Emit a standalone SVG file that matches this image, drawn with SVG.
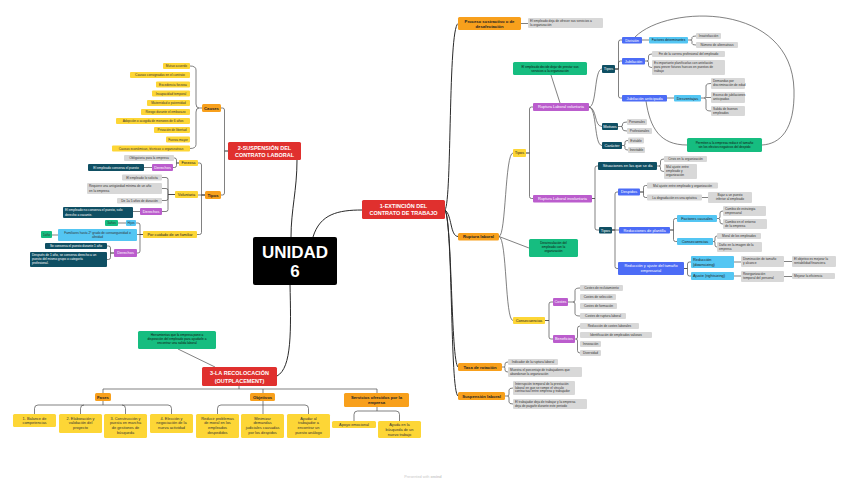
<svg xmlns="http://www.w3.org/2000/svg" width="848" height="483" viewBox="0 0 848 483">
<style>
text{font-family:"Liberation Sans",Arial,sans-serif}
.c{fill:none;stroke:#4a4a4a;stroke-width:.7}
.cm{fill:none;stroke:#2a2a2a;stroke-width:1}
.s{font-size:3.2px;fill:#333}
.sw{font-size:3.2px;fill:#fff}
.m{font-size:3.9px;fill:#222}
.mw{font-size:3.9px;fill:#fff}
.ob{font-size:4.2px;font-weight:bold;fill:#222}
.rb{font-size:5.5px;font-weight:bold;fill:#fff}
.f{font-size:3.9px;fill:#333}
.a{text-anchor:middle}
.R{fill:#e0302e}.O{fill:#f8a01c}.Y{fill:#fdd636}.G{fill:#d8d8d8}.P{fill:#bb5dcd}.T{fill:#0f4f63}.B{fill:#4c6cf6}.L{fill:#54c6f3}.N{fill:#16bd80}
</style>
<rect width="848" height="483" fill="#fff"/>
<g id="connectors">
<path class="cm" d="M297 160C297 190 291 210 291 237M313 237C320 214 338 210 362 210M290 284C291 330 292 368 277 376"/>
<path class="cm" d="M445 210C452 200 448 30 458 23.5M445 210C452 215 450 236 458 236.5M445 210C452 220 451 362 458 367M445 210C453 225 450 392 458 396"/>
<path class="c" d="M228 151H224.5V110Q224.5 108 222.5 108H221M228 151H224.5V193Q224.5 195 222.5 195H221"/>
<path class="c" d="M190 66Q196 66 196 70V104Q196 108 199 108Q196 108 196 112V144.5Q196 148.5 190 148.5M199 108H202"/>
<path class="c" d="M205 195H201.5V165Q201.5 163 199.5 163H198M205 195H198M205 195H201.5V232.5Q201.5 234.5 199.5 234.5H197"/>
<path class="c" d="M179 163H176.5V160Q176.5 158 174.5 158H174M179 163H176.5V165.5Q176.5 167.5 174.5 167.5H173M152 167.5H144"/>
<path class="c" d="M175 194.5H168V179.5Q168 177.5 166 177.5H162M175 194.5H168V190.5Q168 188.5 166 188.5H162M175 194.5H168V198.5Q168 200.5 166 200.5H162M175 194.5H168V209.5Q168 211.5 166 211.5H162M140 211.5H133"/>
<path class="c" d="M143 234.5H140V225Q140 223 138 223H136M143 234.5H137M143 234.5H140V251Q140 253 138 253H137M126 223H118M58 235H52"/>
<path class="c" d="M114 253H110.5V248Q110.5 246 108.5 246H107M114 253H110.5V257.5Q110.5 259.5 108.5 259.5H107"/>
<path class="c" d="M178 349L215 367M239 386V389M103 393V389H377V393M263 389V393"/>
<path class="c" d="M103 401V405M38 405H168M38 405Q34.5 405 34.5 408.5V414M84 405Q80.5 405 80.5 408.5V414M122 405Q125.5 405 125.5 408.5V414M168 405Q171.5 405 171.5 408.5V414"/>
<path class="c" d="M263 401V414M221 405H305M221 405Q217.5 405 217.5 408.5V414M305 405Q308.5 405 308.5 408.5V414"/>
<path class="c" d="M377 407V411M357.5 411H396M357.5 411Q354 411 354 414.5V421M396 411Q399.5 411 399.5 414.5V421"/>
<path class="c" d="M521 23.5H528M499 236.5L529 248M499 236.5C506 236 505 153 513 153M499 236.5C507 238 505 320.5 513 320.5"/>
<path class="c" d="M526 153H529.5V109Q529.5 107 531.5 107H533M526 153H529.5V196.5Q529.5 198.5 531.5 198.5H533M560 103L551 75"/>
<path class="c" d="M589 107C597 107 594 69 602 69M589 107C597 108 594 126.5 602 126.5M589 107C597 108 594 145.5 602 145.5"/>
<path class="c" d="M615 69H618.5V42Q618.5 40 620.5 40H622M615 69H618.5V63Q618.5 61 620.5 61H622M615 69H618.5V96Q618.5 98 620.5 98H622M642 40H649M667 98H674"/>
<path class="c" d="M696 36Q692 36 692 37.5V38.5Q692 40 690.5 40Q692 40 692 41.5V43.5Q692 45 696 45M690.5 40H688"/>
<path class="c" d="M652 54Q648.5 54 648.5 56V59.5Q648.5 61 647 61Q648.5 61 648.5 62.5V65.5Q648.5 67.5 652 67.5M647 61H645"/>
<path class="c" d="M711 83.5Q706 83.5 706 86V96Q706 98 704 98Q706 98 706 100V108.5Q706 111 711 111M704 98H701M706 97.5H711"/>
<path class="c" d="M627 122Q622.5 122 622.5 124V125Q622.5 126.5 621 126.5Q622.5 126.5 622.5 128V129Q622.5 131 627 131M621 126.5H618"/>
<path class="c" d="M628 140.5Q625 140.5 625 142V144Q625 145.5 623.5 145.5Q625 145.5 625 147V148.5Q625 150 628 150M623.5 145.5H622"/>
<path class="c" d="M635 37C668 4 792 2 794 90C795 130 780 144 762 145M646 101C650 128 660 145 687 145"/>
<path class="c" d="M592 198.5H595V168Q595 166 597 166H598M592 198.5H595V228Q595 230 597 230H599"/>
<path class="c" d="M664 159Q660.5 159 660.5 161V164.5Q660.5 166 659 166Q660.5 166 660.5 167.5V169.5Q660.5 171.5 664 171.5M659 166H657"/>
<path class="c" d="M612 230H615V194Q615 192 617 192H618M612 230H619M612 230H615V266.5Q615 268.5 617 268.5H618"/>
<path class="c" d="M640 192H643.5V187.5Q643.5 185.5 645.5 185.5H647M640 192H643.5V195.5Q643.5 197.5 645.5 197.5H647M702 197.5H708"/>
<path class="c" d="M670 230H673.5V220.5Q673.5 218.5 675.5 218.5H677M670 230H673.5V239.5Q673.5 241.5 675.5 241.5H677"/>
<path class="c" d="M723 211Q720 211 720 213V216.5Q720 218.5 718.5 218.5Q720 218.5 720 220.5V222Q720 224 723 224M718.5 218.5H717"/>
<path class="c" d="M717 236Q715 236 715 238V240Q715 241.5 714 241.5Q715 241.5 715 243V245Q715 247 717 247M714 241.5H713"/>
<path class="c" d="M684 268.5H687.5V264Q687.5 262 689.5 262H691M684 268.5H687.5V274Q687.5 276 689.5 276H691"/>
<path class="c" d="M734 262H741M784 261.5H792M734 276H741M784 276.5H792"/>
<path class="c" d="M545 320.5H549V304Q549 302 551 302H553M545 320.5H549V337Q549 339 551 339H553"/>
<path class="c" d="M580 288Q575 288 575 290.5V300Q575 302 573 302Q575 302 575 304V313.5Q575 316 580 316M573 302H568"/>
<path class="c" d="M580 326Q577.5 326 577.5 328.5V337Q577.5 339 576 339Q577.5 339 577.5 341V350.5Q577.5 353 580 353M576 339H575"/>
<path class="c" d="M508 362Q505 362 505 364V365.5Q505 367 504 367Q505 367 505 368.5V370Q505 372 508 372M504 367H502"/>
<path class="c" d="M513 388Q509 388 509 390V394Q509 396 507.5 396Q509 396 509 398V402Q509 404 513 404M507.5 396H505"/>
</g>
<g id="unidad"><rect x="253" y="237" width="84" height="48" rx="2" fill="#000"/><text x="295" y="257.5" class="a" style="font-size:17px;font-weight:bold;fill:#fff">UNIDAD</text><text x="295" y="277" class="a" style="font-size:17px;font-weight:bold;fill:#fff">6</text></g>
<g id="n1"><rect class="R" x="362" y="200" width="83" height="19" rx="1.5"/><text class="rb a" x="403.5" y="208">1-EXTINCIÓN DEL</text><text class="rb a" x="403.5" y="215">CONTRATO DE TRABAJO</text></g>
<g id="n2"><rect class="R" x="228" y="142" width="73" height="18" rx="1.5"/><text class="rb a" x="264.5" y="149.8">2-SUSPENSIÓN DEL</text><text class="rb a" x="264.5" y="156.8">CONTRATO LABORAL</text></g>
<g id="n3"><rect class="R" x="202" y="367" width="75" height="19" rx="1.5"/><text class="rb a" x="239.5" y="375">3-LA RECOLOCACIÓN</text><text class="rb a" x="239.5" y="382.5">(OUTPLACEMENT)</text></g>
<g id="causes"><rect class="O" x="202" y="104" width="19" height="8" rx="1.5"/><text class="ob a" x="211.5" y="109.5">Causes</text></g>
<g id="c1"><rect class="Y" x="163" y="63" width="27" height="6" rx="1"/><text class="s a" x="176.5" y="67.2">Mutuo acuerdo</text></g>
<g id="c2"><rect class="Y" x="130" y="72" width="60" height="6" rx="1"/><text class="s a" x="160" y="76.2">Causas consignadas en el contrato</text></g>
<g id="c3"><rect class="Y" x="156" y="81.5" width="34" height="6" rx="1"/><text class="s a" x="173" y="85.7">Excedencia forzosa</text></g>
<g id="c4"><rect class="Y" x="152" y="90.5" width="38" height="6" rx="1"/><text class="s a" x="171" y="94.7">Incapacidad temporal</text></g>
<g id="c5"><rect class="Y" x="147" y="100" width="43" height="6" rx="1"/><text class="s a" x="168.5" y="104.2">Maternidad o paternidad</text></g>
<g id="c6"><rect class="Y" x="141" y="109" width="49" height="6" rx="1"/><text class="s a" x="165.5" y="113.2">Riesgo durante el embarazo</text></g>
<g id="c7"><rect class="Y" x="116" y="118" width="74" height="6" rx="1"/><text class="s a" x="153" y="122.2">Adopción o acogida de menores de 6 años</text></g>
<g id="c8"><rect class="Y" x="154" y="127" width="36" height="6" rx="1"/><text class="s a" x="172" y="131.2">Privación de libertad</text></g>
<g id="c9"><rect class="Y" x="166" y="136.5" width="24" height="6" rx="1"/><text class="s a" x="178" y="140.7">Fuerza mayor</text></g>
<g id="c10"><rect class="Y" x="112" y="145.5" width="78" height="6" rx="1"/><text class="s a" x="151" y="149.7">Causas económicas, técnicas u organizativas</text></g>
<g id="tiposL"><rect class="O" x="205" y="191" width="16" height="8" rx="1.5"/><text class="ob a" x="213" y="196.5">Tipos</text></g>
<g id="forzosa"><rect class="Y" x="179" y="160" width="19" height="6" rx="1"/><text class="m a" x="188.5" y="164.4">Forzosa</text></g>
<g id="oblig"><rect class="G" x="124" y="155" width="50" height="6" rx="1"/><text class="s a" x="149" y="159.2">Obligatoria para la empresa</text></g>
<g id="der1"><rect class="P" x="152" y="164" width="21" height="7" rx="1"/><text class="mw a" x="162.5" y="168.9">Derechos</text></g>
<g id="conserva"><rect class="T" x="88" y="164" width="56" height="7" rx="1"/><text class="sw a" x="116" y="168.7">El empleado conserva el puesto</text></g>
<g id="voluntaria"><rect class="Y" x="175" y="191" width="23" height="7" rx="1"/><text class="m a" x="186.5" y="195.9">Voluntaria</text></g>
<g id="solicita"><rect class="G" x="122" y="174.5" width="40" height="6" rx="1"/><text class="s a" x="142" y="178.7">El empleado lo solicita</text></g>
<g id="requiere"><rect class="G" x="87" y="183" width="75" height="11" rx="1"/><text class="s" x="89" y="187.3">Requiere una antigüedad mínima de un año</text><text class="s" x="89" y="191.5">en la empresa</text></g>
<g id="duracion"><rect class="G" x="117" y="198" width="45" height="5.5" rx="1"/><text class="s a" x="139.5" y="201.9">De 1a 5 años de duración</text></g>
<g id="der2"><rect class="P" x="140" y="208" width="22" height="7" rx="1"/><text class="mw a" x="151" y="212.9">Derechos</text></g>
<g id="noconserva"><rect class="T" x="63" y="207" width="70" height="11" rx="1"/><text class="sw" x="65" y="211.3">El empleado no conserva el puesto, solo</text><text class="sw" x="65" y="215.5">derecho a vacante.</text></g>
<g id="cuidado"><rect class="Y" x="143" y="231" width="54" height="7" rx="1"/><text class="m a" x="170" y="235.9">Por cuidado de un familiar</text></g>
<g id="hijos"><rect class="L" x="126" y="220" width="10" height="6" rx="1"/><text class="s a" x="131" y="224.2">Hijos</text></g>
<g id="anos3"><rect class="N" x="105" y="220" width="13" height="6" rx="1"/><text class="s a" x="111.5" y="224.2">3años</text></g>
<g id="familiares"><rect class="L" x="58" y="229" width="79" height="12" rx="1"/><text class="s a" x="97.5" y="233.5">Familiares hasta 2º grado de consanguinidad o</text><text class="s a" x="97.5" y="237.7">afinidad</text></g>
<g id="ano1"><rect class="N" x="41" y="231" width="11" height="7" rx="1"/><text class="s a" x="46.5" y="235.7">1año</text></g>
<g id="der3"><rect class="P" x="114" y="249" width="23" height="8" rx="1"/><text class="mw a" x="125.5" y="254.4">Derechos</text></g>
<g id="seconserva"><rect class="T" x="45" y="243" width="62" height="6" rx="1"/><text class="sw a" x="76" y="247.2">Se conserva el puesto durante 1 año</text></g>
<g id="despues"><rect class="T" x="30" y="252" width="77" height="15" rx="1"/><text class="sw" x="32" y="255.8">Después de 1 año, se conserva derecho a un</text><text class="sw" x="32" y="259.8">puesto del mismo grupo o categoría</text><text class="sw" x="32" y="263.8">profesional.</text></g>
<g id="herramientas"><rect class="N" x="138" y="331" width="78" height="18" rx="1.5"/><text class="s a" x="177" y="336" style="fill:#111">Herramientas que la empresa pone a</text><text class="s a" x="177" y="340.2" style="fill:#111">disposición del empleado para ayudarle a</text><text class="s a" x="177" y="344.4" style="fill:#111">encontrar una salida laboral</text></g>
<g id="fases"><rect class="O" x="95" y="393" width="16" height="8" rx="1.5"/><text class="ob a" x="103" y="398.5">Fases</text></g>
<g id="objetivos"><rect class="O" x="250" y="393" width="25" height="8" rx="1.5"/><text class="ob a" x="262.5" y="398.5">Objetivos</text></g>
<g id="servicios"><rect class="O" x="344" y="393" width="65" height="14" rx="1.5"/><text class="ob a" x="376.5" y="398.8">Servicios ofrecidos por la</text><text class="ob a" x="376.5" y="404">empresa</text></g>
<g id="f1"><rect class="Y" x="13" y="414" width="43" height="13" rx="1.5"/><text class="f a" x="34.5" y="419.5">1. Balance de</text><text class="f a" x="34.5" y="424.3">competencias</text></g>
<g id="f2"><rect class="Y" x="59" y="414" width="43" height="19" rx="1.5"/><text class="f a" x="80.5" y="419.5">2. Elaboración y</text><text class="f a" x="80.5" y="424.3">validación del</text><text class="f a" x="80.5" y="429.1">proyecto</text></g>
<g id="f3"><rect class="Y" x="104" y="414" width="43" height="24" rx="1.5"/><text class="f a" x="125.5" y="419.5">3. Construcción y</text><text class="f a" x="125.5" y="424.3">puesta en marcha</text><text class="f a" x="125.5" y="429.1">de gestiones de</text><text class="f a" x="125.5" y="433.9">búsqueda</text></g>
<g id="f4"><rect class="Y" x="150" y="414" width="43" height="19" rx="1.5"/><text class="f a" x="171.5" y="419.5">4. Elección y</text><text class="f a" x="171.5" y="424.3">negociación de la</text><text class="f a" x="171.5" y="429.1">nueva actividad</text></g>
<g id="o1"><rect class="Y" x="196" y="414" width="43" height="24" rx="1.5"/><text class="f a" x="217.5" y="419.5">Reducir problemas</text><text class="f a" x="217.5" y="424.3">de moral en los</text><text class="f a" x="217.5" y="429.1">empleados</text><text class="f a" x="217.5" y="433.9">despedidos</text></g>
<g id="o2"><rect class="Y" x="241" y="414" width="43" height="24" rx="1.5"/><text class="f a" x="262.5" y="419.5">Minimizar</text><text class="f a" x="262.5" y="424.3">demandas</text><text class="f a" x="262.5" y="429.1">judiciales causadas</text><text class="f a" x="262.5" y="433.9">por los despidos</text></g>
<g id="o3"><rect class="Y" x="287" y="414" width="43" height="24" rx="1.5"/><text class="f a" x="308.5" y="419.5">Ayudar al</text><text class="f a" x="308.5" y="424.3">trabajador a</text><text class="f a" x="308.5" y="429.1">encontrar un</text><text class="f a" x="308.5" y="433.9">puesto análogo</text></g>
<g id="s1"><rect class="Y" x="332" y="421" width="44" height="7" rx="1.5"/><text class="f a" x="354" y="425.9">Apoyo emocional</text></g>
<g id="s2"><rect class="Y" x="378" y="421" width="43" height="17" rx="1.5"/><text class="f a" x="399.5" y="426.3">Ayuda en la</text><text class="f a" x="399.5" y="431.1">búsqueda de un</text><text class="f a" x="399.5" y="435.9">nuevo trabajo</text></g>
<g id="proceso"><rect class="O" x="458" y="17" width="63" height="13" rx="1.5"/><text class="ob a" x="489.5" y="22.5">Proceso sustractivo o de</text><text class="ob a" x="489.5" y="27.5">desafectación</text></g>
<g id="deja"><rect class="G" x="528" y="18" width="75" height="10" rx="1"/><text class="s" x="530" y="22">El empleado deja de ofrecer sus servicios a</text><text class="s" x="530" y="26.2">la organización</text></g>
<g id="decide"><rect class="N" x="513" y="62" width="74" height="13" rx="1.5"/><text class="s a" x="550" y="67.5" style="fill:#111">El empleado decide dejar de prestar sus</text><text class="s a" x="550" y="71.7" style="fill:#111">servicios a la organización</text></g>
<g id="rvol"><rect class="P" x="533" y="103" width="56" height="8" rx="1"/><text class="mw a" x="561" y="108.4">Ruptura Laboral voluntaria</text></g>
<g id="tiposV"><rect class="T" x="602" y="65" width="13" height="8" rx="1"/><text class="mw a" x="608.5" y="70.4">Tipos</text></g>
<g id="division"><rect class="B" x="622" y="37" width="20" height="6.5" rx="1"/><text class="mw a" x="632" y="41.6">División</text></g>
<g id="factdet"><rect class="L" x="649" y="37" width="39" height="6.5" rx="1"/><text class="s a" x="668.5" y="41.4" style="fill:#111">Factores determinantes</text></g>
<g id="insat"><rect class="G" x="696" y="33" width="25" height="6" rx="1"/><text class="s a" x="708.5" y="37.2">Insatisfacción</text></g>
<g id="numalt"><rect class="G" x="696" y="42" width="42" height="6" rx="1"/><text class="s a" x="717" y="46.2">Número de alternativas</text></g>
<g id="jubilacion"><rect class="B" x="622" y="58" width="23" height="6.5" rx="1"/><text class="mw a" x="633.5" y="62.6">Jubilación</text></g>
<g id="fin"><rect class="G" x="652" y="51" width="73" height="6" rx="1"/><text class="s a" x="688.5" y="55.2">Fin de la carrera profesional del empleado</text></g>
<g id="planif"><rect class="G" x="652" y="60" width="73" height="15" rx="1"/><text class="s" x="654" y="63.8">Es importante planificarlas con antelación</text><text class="s" x="654" y="67.8">para prever futuros huecos en puestos de</text><text class="s" x="654" y="71.8">trabajo</text></g>
<g id="jubant"><rect class="B" x="622" y="95" width="45" height="6.5" rx="1"/><text class="mw a" x="644.5" y="99.6">Jubilación anticipada</text></g>
<g id="desventajas"><rect class="L" x="674" y="95" width="27" height="6.5" rx="1"/><text class="m a" x="687.5" y="99.6">Desventajas</text></g>
<g id="demandas"><rect class="G" x="711" y="78" width="34" height="11" rx="1"/><text class="s" x="713" y="82.3">Demandas por</text><text class="s" x="713" y="86.3">discriminación de edad</text></g>
<g id="exceso"><rect class="G" x="711" y="92" width="34" height="11" rx="1"/><text class="s" x="713" y="96.3">Exceso de jubilaciones</text><text class="s" x="713" y="100.3">anticipadas</text></g>
<g id="salida"><rect class="G" x="711" y="106" width="34" height="10" rx="1"/><text class="s" x="713" y="109.8">Salida de buenos</text><text class="s" x="713" y="113.8">empleados</text></g>
<g id="motivos"><rect class="T" x="602" y="123" width="16" height="7" rx="1"/><text class="mw a" x="610" y="127.9">Motivos</text></g>
<g id="personales"><rect class="G" x="627" y="119" width="20" height="6" rx="1"/><text class="s a" x="637" y="123.2">Personales</text></g>
<g id="profesionales"><rect class="G" x="627" y="128" width="25" height="6" rx="1"/><text class="s a" x="639.5" y="132.2">Profesionales</text></g>
<g id="caracter"><rect class="T" x="602" y="142" width="20" height="7" rx="1"/><text class="mw a" x="612" y="146.9">Carácter</text></g>
<g id="evitable"><rect class="G" x="628" y="137.5" width="16" height="6" rx="1"/><text class="s a" x="636" y="141.7">Evitable</text></g>
<g id="inevitable"><rect class="G" x="628" y="147" width="17" height="6" rx="1"/><text class="s a" x="636.5" y="151.2">Inevitable</text></g>
<g id="permiten"><rect class="N" x="687" y="138" width="75" height="14" rx="1.5"/><text class="s a" x="724.5" y="143.8" style="fill:#111">Permiten a la empresa reducir el tamaño</text><text class="s a" x="724.5" y="148" style="fill:#111">sin los efectos negativos del despido</text></g>
<g id="tiposY"><rect class="Y" x="513" y="149" width="13" height="8" rx="1"/><text class="m a" x="519.5" y="154.4">Tipos</text></g>
<g id="rinv"><rect class="P" x="533" y="195" width="59" height="7.5" rx="1"/><text class="mw a" x="562.5" y="200.2">Ruptura Laboral involuntaria</text></g>
<g id="situaciones"><rect class="T" x="598" y="162" width="59" height="8" rx="1"/><text class="mw a" x="627.5" y="167.4">Situaciones en las que se da</text></g>
<g id="crisis"><rect class="G" x="664" y="156" width="43" height="6" rx="1"/><text class="s a" x="685.5" y="160.2">Crisis en la organización</text></g>
<g id="malajuste1"><rect class="G" x="664" y="164" width="33" height="15" rx="1"/><text class="s" x="666" y="167.8">Mal ajuste entre</text><text class="s" x="666" y="171.8">empleado y</text><text class="s" x="666" y="175.8">organización</text></g>
<g id="tiposI"><rect class="T" x="599" y="227" width="13" height="6.5" rx="1"/><text class="mw a" x="605.5" y="231.6">Tipos</text></g>
<g id="despidos"><rect class="B" x="618" y="188.5" width="22" height="7" rx="1"/><text class="mw a" x="629" y="193.4">Despidos</text></g>
<g id="malajuste2"><rect class="G" x="647" y="182.5" width="71" height="6" rx="1"/><text class="s a" x="682.5" y="186.7">Mal ajuste entre empleado y organización</text></g>
<g id="degradacion"><rect class="G" x="647" y="194.5" width="55" height="6" rx="1"/><text class="s a" x="674.5" y="198.7">La degradación es una optativa</text></g>
<g id="bajar"><rect class="G" x="708" y="192" width="44" height="11" rx="1"/><text class="s a" x="730" y="196.3">Bajar a un puesto</text><text class="s a" x="730" y="200.3">inferior al empleado</text></g>
<g id="reducciones"><rect class="B" x="619" y="227" width="51" height="6.5" rx="1"/><text class="mw a" x="644.5" y="231.6">Reducciones de plantilla</text></g>
<g id="factcaus"><rect class="L" x="677" y="215" width="40" height="7" rx="1"/><text class="m a" x="697" y="219.9">Factores causales</text></g>
<g id="estrategia"><rect class="G" x="723" y="206" width="43" height="10" rx="1"/><text class="s" x="725" y="209.8">Cambio de estrategia</text><text class="s" x="725" y="213.8">empresarial</text></g>
<g id="entorno"><rect class="G" x="723" y="219" width="44" height="10" rx="1"/><text class="s" x="725" y="222.8">Cambio en el entorno</text><text class="s" x="725" y="226.8">de la empresa</text></g>
<g id="consecL"><rect class="L" x="677" y="238" width="36" height="7" rx="1"/><text class="m a" x="695" y="242.9">Consecuencias</text></g>
<g id="moral"><rect class="G" x="717" y="233" width="44" height="6" rx="1"/><text class="s a" x="739" y="237.2">Moral de los empleados</text></g>
<g id="dano"><rect class="G" x="717" y="242" width="45" height="10" rx="1"/><text class="s" x="719" y="245.8">Daño en la imagen de la</text><text class="s" x="719" y="249.8">empresa</text></g>
<g id="reduccionajuste"><rect class="B" x="618" y="262" width="66" height="13" rx="1"/><text class="mw a" x="651" y="267.2">Reducción y ajuste del tamaño</text><text class="mw a" x="651" y="272.2">empresarial</text></g>
<g id="downsizing"><rect class="L" x="691" y="256" width="43" height="12" rx="1"/><text class="m" x="693" y="260.7">Reducción</text><text class="m" x="693" y="265.7">(downsizing)</text></g>
<g id="rightsizing"><rect class="L" x="691" y="272" width="43" height="8" rx="1"/><text class="m" x="693" y="277.4">Ajuste (rightsizing)</text></g>
<g id="disminucion"><rect class="G" x="741" y="256" width="43" height="11" rx="1"/><text class="s" x="743" y="260.3">Disminución de tamaño</text><text class="s" x="743" y="264.3">y alcance</text></g>
<g id="objetivo"><rect class="G" x="792" y="256" width="44" height="11" rx="1"/><text class="s" x="794" y="260.3">El objetivo es mejorar la</text><text class="s" x="794" y="264.3">rentabilidad financiera</text></g>
<g id="reorg"><rect class="G" x="741" y="271" width="43" height="11" rx="1"/><text class="s" x="743" y="275.3">Reorganización</text><text class="s" x="743" y="279.3">temporal del personal</text></g>
<g id="eficiencia"><rect class="G" x="792" y="273" width="43" height="6" rx="1"/><text class="s" x="794" y="277.2">Mejorar la eficiencia</text></g>
<g id="ruptura"><rect class="O" x="458" y="233" width="41" height="7.5" rx="1.5"/><text class="ob a" x="478.5" y="238.3">Ruptura laboral</text></g>
<g id="desvinc"><rect class="N" x="529" y="239" width="49" height="18" rx="1.5"/><text class="s a" x="553.5" y="244" style="fill:#111">Desvinculación del</text><text class="s a" x="553.5" y="248.2" style="fill:#111">empleado con la</text><text class="s a" x="553.5" y="252.4" style="fill:#111">organización</text></g>
<g id="consecY"><rect class="Y" x="513" y="317" width="32" height="7" rx="1"/><text class="m a" x="529" y="321.9">Consecuencias</text></g>
<g id="costes"><rect class="P" x="553" y="298" width="15" height="8" rx="1"/><text class="mw a" x="560.5" y="303.4">Costes</text></g>
<g id="beneficios"><rect class="P" x="553" y="335" width="22" height="8" rx="1"/><text class="mw a" x="564" y="340.4">Beneficios</text></g>
<g id="co1"><rect class="G" x="580" y="285" width="43" height="6" rx="1"/><text class="s a" x="601.5" y="289.2">Costes de reclutamiento</text></g>
<g id="co2"><rect class="G" x="580" y="294" width="36" height="6" rx="1"/><text class="s a" x="598" y="298.2">Costes de selección</text></g>
<g id="co3"><rect class="G" x="580" y="303" width="37" height="6" rx="1"/><text class="s a" x="598.5" y="307.2">Costes de formación</text></g>
<g id="co4"><rect class="G" x="580" y="313" width="46" height="6" rx="1"/><text class="s a" x="603" y="317.2">Costes de ruptura laboral</text></g>
<g id="b1"><rect class="G" x="580" y="323" width="59" height="6" rx="1"/><text class="s a" x="609.5" y="327.2">Reducción de costes laborales</text></g>
<g id="b2"><rect class="G" x="580" y="332" width="72" height="6" rx="1"/><text class="s a" x="616" y="336.2">Identificación de empleados valiosos</text></g>
<g id="b3"><rect class="G" x="580" y="341" width="21" height="6" rx="1"/><text class="s a" x="590.5" y="345.2">Innovación</text></g>
<g id="b4"><rect class="G" x="580" y="350" width="21" height="6" rx="1"/><text class="s a" x="590.5" y="354.2">Diversidad</text></g>
<g id="tasa"><rect class="O" x="458" y="363" width="44" height="8" rx="1.5"/><text class="ob a" x="480" y="368.5">Tasa de rotación</text></g>
<g id="indicador"><rect class="G" x="508" y="359" width="50" height="6" rx="1"/><text class="s a" x="533" y="363.2">Indicador de la ruptura laboral</text></g>
<g id="muestra"><rect class="G" x="508" y="367" width="74" height="10" rx="1"/><text class="s" x="510" y="370.8">Muestra el porcentaje de trabajadores que</text><text class="s" x="510" y="374.8">abandonan la organización</text></g>
<g id="suspension"><rect class="O" x="458" y="392" width="47" height="8" rx="1.5"/><text class="ob a" x="481.5" y="397.5">Suspensión laboral</text></g>
<g id="interrupcion"><rect class="G" x="513" y="381" width="62" height="14" rx="1"/><text class="s" x="515" y="384.8">Interrupción temporal de la prestación</text><text class="s" x="515" y="388.6">laboral en que se rompe el vínculo</text><text class="s" x="515" y="392.4">contractual entre empresa y trabajador</text></g>
<g id="trabajador"><rect class="G" x="513" y="399" width="74" height="10" rx="1"/><text class="s" x="515" y="402.8">El trabajador deja de trabajar y la empresa</text><text class="s" x="515" y="406.8">deja de pagarle durante este periodo</text></g>
<text x="423" y="478" class="a" style="font-size:3.8px;fill:#c8c8c8">Presented with <tspan style="font-weight:bold">xmind</tspan></text>
</svg>
